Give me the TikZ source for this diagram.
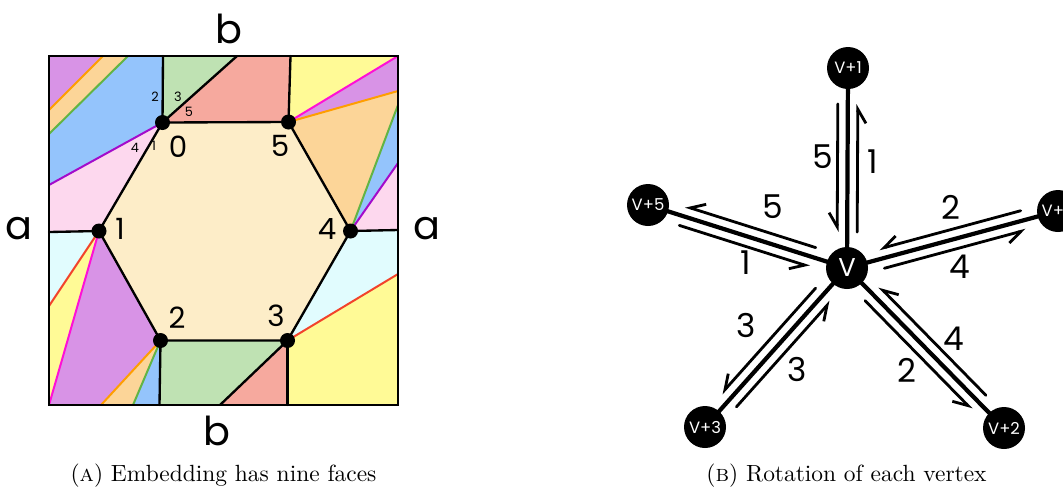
\documentclass[tikz,border=0pt]{standalone}
\usepackage{fontspec}
\newfontfamily\hand{Poppins}
\usetikzlibrary{arrows.meta,calc,backgrounds}
\definecolor{FaceHex}{HTML}{FDEDC8}
\definecolor{FacePur}{HTML}{D893E6}
\definecolor{FaceOrg}{HTML}{FCD598}
\definecolor{FaceBlu}{HTML}{94C4FC}
\definecolor{FaceGrn}{HTML}{BFE2B3}
\definecolor{FaceSal}{HTML}{F6A99E}
\definecolor{FaceYel}{HTML}{FFFA96}
\definecolor{FacePnk}{HTML}{FDD8EE}
\definecolor{FaceCyn}{HTML}{E1FCFE}
\definecolor{LnOrg}{HTML}{FF9E00}
\definecolor{LnGrn}{HTML}{62B444}
\definecolor{LnPur}{HTML}{A30BCB}
\definecolor{LnMag}{HTML}{FF10D6}
\definecolor{LnRed}{HTML}{F2432B}
\tikzset{
  edg/.style={line width=1pt, draw=black, line cap=round},
  brd/.style={line width=1.1pt, draw=black},
  wrap/.style={line width=0.85pt, draw=#1},
  dot/.style={circle, fill=black, inner sep=0pt, minimum size=0.225cm},
  side/.style={font=\hand\fontsize{17}{17}\selectfont},
  vlbl/.style={font=\hand\fontsize{12.5}{12.5}\selectfont},
  sml/.style={font=\hand\fontsize{5.5}{5.5}\selectfont},
  num/.style={font=\hand\fontsize{14}{14}\selectfont},
  vtx/.style={circle, fill=black, text=white, inner sep=0pt, minimum size=0.63cm,
              font=\hand\fontsize{7}{7}\selectfont},
  spoke/.style={line width=1.8pt},
  harp/.style={line width=1.2pt, line cap=round, -{Straight Barb[right, length=6pt, width=7pt]}},
  capt/.style={font=\normalsize, anchor=base},
}
\begin{document}
\begin{tikzpicture}[x=0.015cm,y=-0.015cm]
\useasboundingbox (0,0) rectangle (1063,490);

% ---------------- (a) square with the embedding ----------------------------------------
\coordinate (tl) at (49,56);   \coordinate (tr) at (398,56);
\coordinate (bl) at (49,405);  \coordinate (br) at (398,405);
\coordinate (v0) at (162.5,122.5); \coordinate (v1) at (99,231);
\coordinate (v2) at (160.5,340.5); \coordinate (v3) at (287.5,340.5);
\coordinate (v4) at (350.5,231);   \coordinate (v5) at (288.5,122);
% points where edges leave the square
\coordinate (t1) at (103,56);  \coordinate (t2) at (128,56);  \coordinate (t3) at (163,56);
\coordinate (t4) at (237,56);  \coordinate (t5) at (290.5,56);
\coordinate (r1) at (398,91);  \coordinate (r2) at (398,105); \coordinate (r3) at (398,163);
\coordinate (r4) at (398,230); \coordinate (r5) at (398,274);
\coordinate (b1) at (101,405); \coordinate (b2) at (133,405); \coordinate (b3) at (159.5,405);
\coordinate (b4) at (220,405); \coordinate (b5) at (287.5,405);
\coordinate (l1) at (49,110);  \coordinate (l2) at (49,134);  \coordinate (l3) at (49,185);
\coordinate (l4) at (49,232);  \coordinate (l5) at (49,306);

% faces
\foreach \c/\p in {FaceHex/{(v0) -- (v5) -- (v4) -- (v3) -- (v2) -- (v1)},
    FacePur/{(tl) -- (t1) -- (l1)}, FaceOrg/{(t1) -- (t2) -- (l2) -- (l1)},
    FaceBlu/{(t2) -- (t3) -- (v0) -- (l3) -- (l2)}, FaceGrn/{(t3) -- (t4) -- (v0)},
    FaceSal/{(t4) -- (t5) -- (v5) -- (v0)}, FaceYel/{(t5) -- (tr) -- (v5)},
    FacePur/{(v5) -- (tr) -- (r1)}, FaceOrg/{(v5) -- (r1) -- (r2) -- (v4)},
    FaceBlu/{(v4) -- (r2) -- (r3)}, FacePnk/{(v4) -- (r3) -- (r4)},
    FaceCyn/{(v4) -- (r4) -- (r5) -- (v3)}, FaceYel/{(v3) -- (r5) -- (br) -- (b5)},
    FaceSal/{(v3) -- (b5) -- (b4)}, FaceGrn/{(v3) -- (b4) -- (b3) -- (v2)},
    FaceBlu/{(v2) -- (b3) -- (b2)}, FaceOrg/{(v2) -- (b2) -- (b1)},
    FacePur/{(v2) -- (b1) -- (bl) -- (v1)}, FaceYel/{(v1) -- (bl) -- (l5)},
    FaceCyn/{(v1) -- (l5) -- (l4)}, FacePnk/{(v1) -- (l4) -- (l3) -- (v0)}}
  \fill[\c] \p -- cycle;

% edges that wrap round
\foreach \a/\b/\c in {v0/l3/LnPur, v1/l5/LnRed, v1/bl/LnMag, v2/b1/LnOrg, v2/b2/LnGrn,
    v3/r5/LnRed, v4/r2/LnGrn, v4/r3/LnPur, v5/tr/LnMag, v5/r1/LnOrg, l1/t1/LnOrg, l2/t2/LnGrn}
  \draw[wrap=\c] (\a) -- (\b);

% edges
\draw[edg] (v0) -- (v5) -- (v4) -- (v3) -- (v2) -- (v1) -- cycle;
\foreach \a/\b in {v0/t3, v0/t4, v5/t5, v4/r4, v3/b5, v3/b4, v2/b3, v1/l4}
  \draw[edg] (\a) -- (\b);
\draw[brd] (tl) rectangle (br);
\foreach \i in {0,...,5} \node[dot] (d\i) at (v\i) {};

% labels
\node[side] (bt) at (229,29) {b};
\node[side] (bb) at (217,431) {b};
\node[side] (al) at (19,229) {a};
\node[side] (ar) at (427,229) {a};
\foreach \i/\x/\y in {0/178/147, 1/120/229, 2/177/318, 3/276/316, 4/327/229, 5/280/146}
  \node[vlbl] (w\i) at (\x,\y) {\i};
\foreach \t/\x/\y [count=\k] in {2/155/97, 3/178/97, 5/189/112, 4/135/148, 1/154/146}
  \node[sml] (s\k) at (\x,\y) {\t};

\node[capt] (capA) at (223.5,481) {(\textsc{a}) Embedding has nine faces};

% ---------------- (b) rotation at a vertex ---------------------------------------------
\node[vtx, font=\hand\fontsize{11}{11}\selectfont] (V) at (847,268) {V};
\node[vtx] (n1) at (848,68) {V+1};
\node[vtx] (n5) at (648,205) {V+5};
\node[vtx] (n4) at (1058,211) {V+4};
\node[vtx] (n3) at (705,427) {V+3};
\node[vtx] (n2) at (1004,428) {V+2};

\begin{scope}[on background layer]
\foreach \n in {n1,n2,n3,n4,n5}{
  \draw[spoke] (V.center) -- (\n.center);
  \coordinate (a) at ($(V)!0.54cm!(\n)$);
  \coordinate (b) at ($(\n)!0.54cm!(V)$);
  \draw[harp] ($(a)!0.15cm!-90:(b)$) -- ($(b)!0.15cm!90:(a)$);
  \draw[harp] ($(b)!0.15cm!-90:(a)$) -- ($(a)!0.15cm!90:(b)$);
}
\end{scope}

\foreach \t/\x/\y [count=\k] in {5/823/157, 1/873/162, 5/773/207, 1/746/263, 2/951/207,
    4/960/267, 3/746/325, 3/797/369, 2/907/370, 4/954/339}
  \node[num] (q\k) at (\x,\y) {\t};

\node[capt] (capB) at (846.5,481) {(\textsc{b}) Rotation of each vertex};

\end{tikzpicture}
\end{document}
